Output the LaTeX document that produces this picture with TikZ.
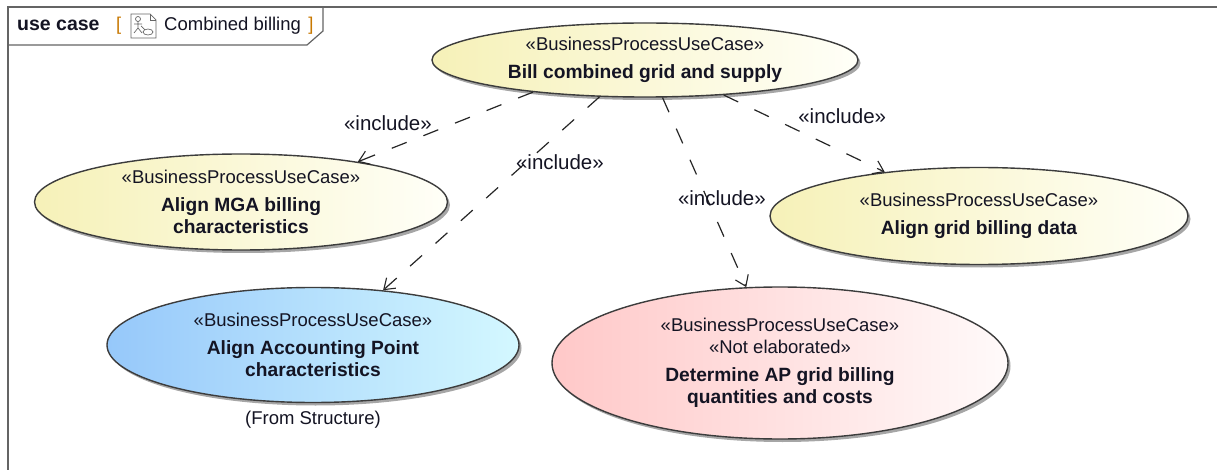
\documentclass[tikz,border=0pt]{standalone}
\usepackage{fontspec}
\setmainfont{Liberation Sans}
\usetikzlibrary{shapes.geometric,shadows,arrows.meta,positioning}

\definecolor{ucline}{RGB}{60,60,60}
\definecolor{frameline}{RGB}{100,100,100}
\definecolor{yelleft}{RGB}{246,241,184}
\definecolor{yelright}{RGB}{255,255,248}
\definecolor{blueleft}{RGB}{150,200,250}
\definecolor{blueright}{RGB}{212,248,255}
\definecolor{pinkleft}{RGB}{255,200,200}
\definecolor{pinkright}{RGB}{255,250,250}
\definecolor{bracket}{RGB}{200,120,0}
\definecolor{uctext}{RGB}{20,20,35}

\newcommand{\stereo}[1]{{\fontsize{18.5}{21}\selectfont «#1»}}
\newcommand{\ucname}[1]{{\bfseries #1}}

\tikzset{
  usecase/.style={ellipse, draw=ucline, line width=1.4pt, inner sep=0pt, align=center,
    text=uctext, font=\fontsize{19.2}{22}\selectfont,
    drop shadow={shadow xshift=2.5pt, shadow yshift=-3pt, opacity=.35, fill=black}},
  yellowcase/.style={usecase, left color=yelleft, right color=yelright},
  bluecase/.style={usecase, left color=blueleft, right color=blueright},
  pinkcase/.style={usecase, left color=pinkleft, right color=pinkright},
  include/.style={draw=black!85, line width=1.2pt, dash pattern=on 16pt off 18pt,
    -{Straight Barb[length=10pt,width=14pt,line width=1.1pt]}},
  inclabel/.style={font=\fontsize{20.5}{22}\selectfont, text=uctext, inner sep=0pt},
  frame/.style={draw=frameline, line width=1.2pt},
  tabfont/.style={font=\fontsize{18.5}{20}\selectfont, text=uctext, inner sep=0pt},
  icon/.style={draw=black!60, line width=.7pt}
}

\begin{document}
\begin{tikzpicture}[x=1pt,y=-1pt]
        \useasboundingbox (0,0) rectangle (1217,470);
        \fill[white] (0,0) rectangle (1217,470);
        % frame
        \draw[frame] (8,470) |- (1217,7);
        \draw[frame] (8,45) -- (307,45) -- (323,31) -- (323,7);
        \node[tabfont, anchor=base west, font=\fontsize{19.5}{20}\selectfont\bfseries] (kind) at (17,31) {use case};
        \node[tabfont, anchor=base west, text=bracket, xshift=16pt] (lbr) at (kind.base east) {[};
        \node[tabfont, anchor=base west] (dname) at (164,31) {Combined billing};
        \node[tabfont, anchor=base west, text=bracket, xshift=7pt] (rbr) at (dname.base east) {]};
        % icon
        \draw[icon, fill=white] (131,14) -- (150,14) -- (156,20) -- (156,38) -- (131,38) -- cycle;
        \draw[icon] (150,14) |- (156,20);
        \draw[icon] (138,19) circle (2.5);
        \draw[icon] (138,21.5) -- (138,28) (134,24) -- (142,24)
              (134,33) -- (138,28) -- (142,33) (141,26) -- (145,30);
        \draw[icon] (148,32) ellipse (5 and 3);
        % use cases
        \node[yellowcase, minimum width=426pt, minimum height=74pt] (bill) at (645,60)
            {\stereo{BusinessProcessUseCase}\\[6pt]\ucname{Bill combined grid and supply}};
        \node[yellowcase, minimum width=413pt, minimum height=96pt] (mga) at (241,202)
            {\stereo{BusinessProcessUseCase}\\[6pt]\ucname{Align MGA billing}\\\ucname{characteristics}};
        \node[yellowcase, minimum width=418pt, minimum height=97pt] (grid) at (979,216)
            {\stereo{BusinessProcessUseCase}\\[6pt]\ucname{Align grid billing data}};
        \node[bluecase, minimum width=412pt, minimum height=115pt] (acct) at (313,345)
            {\stereo{BusinessProcessUseCase}\\[6pt]\ucname{Align Accounting Point}\\\ucname{characteristics}};
        \node[pinkcase, minimum width=456pt, minimum height=152pt] (det) at (780,363)
            {\stereo{BusinessProcessUseCase}\\\stereo{Not elaborated}\\[6pt]\ucname{Determine AP grid billing}\\\ucname{quantities and costs}};
        \node[tabfont, below=8pt of acct] (origin) {(From Structure)};
        % include
        \path
            (bill.196) edge[include] node[inclabel, pos=.44, xshift=-68pt] {«include»} (mga.19)
            (bill.219) edge[include] node[inclabel, pos=.34, xshift=34pt] {«include»} (acct.38)
            (bill.295) edge[include] node[inclabel, pos=.53, xshift=15pt] {«include»} (det.114)
            (bill.336) edge[include] node[inclabel, pos=.27, xshift=75pt] {«include»} (grid.155);
\end{tikzpicture}
\end{document}
